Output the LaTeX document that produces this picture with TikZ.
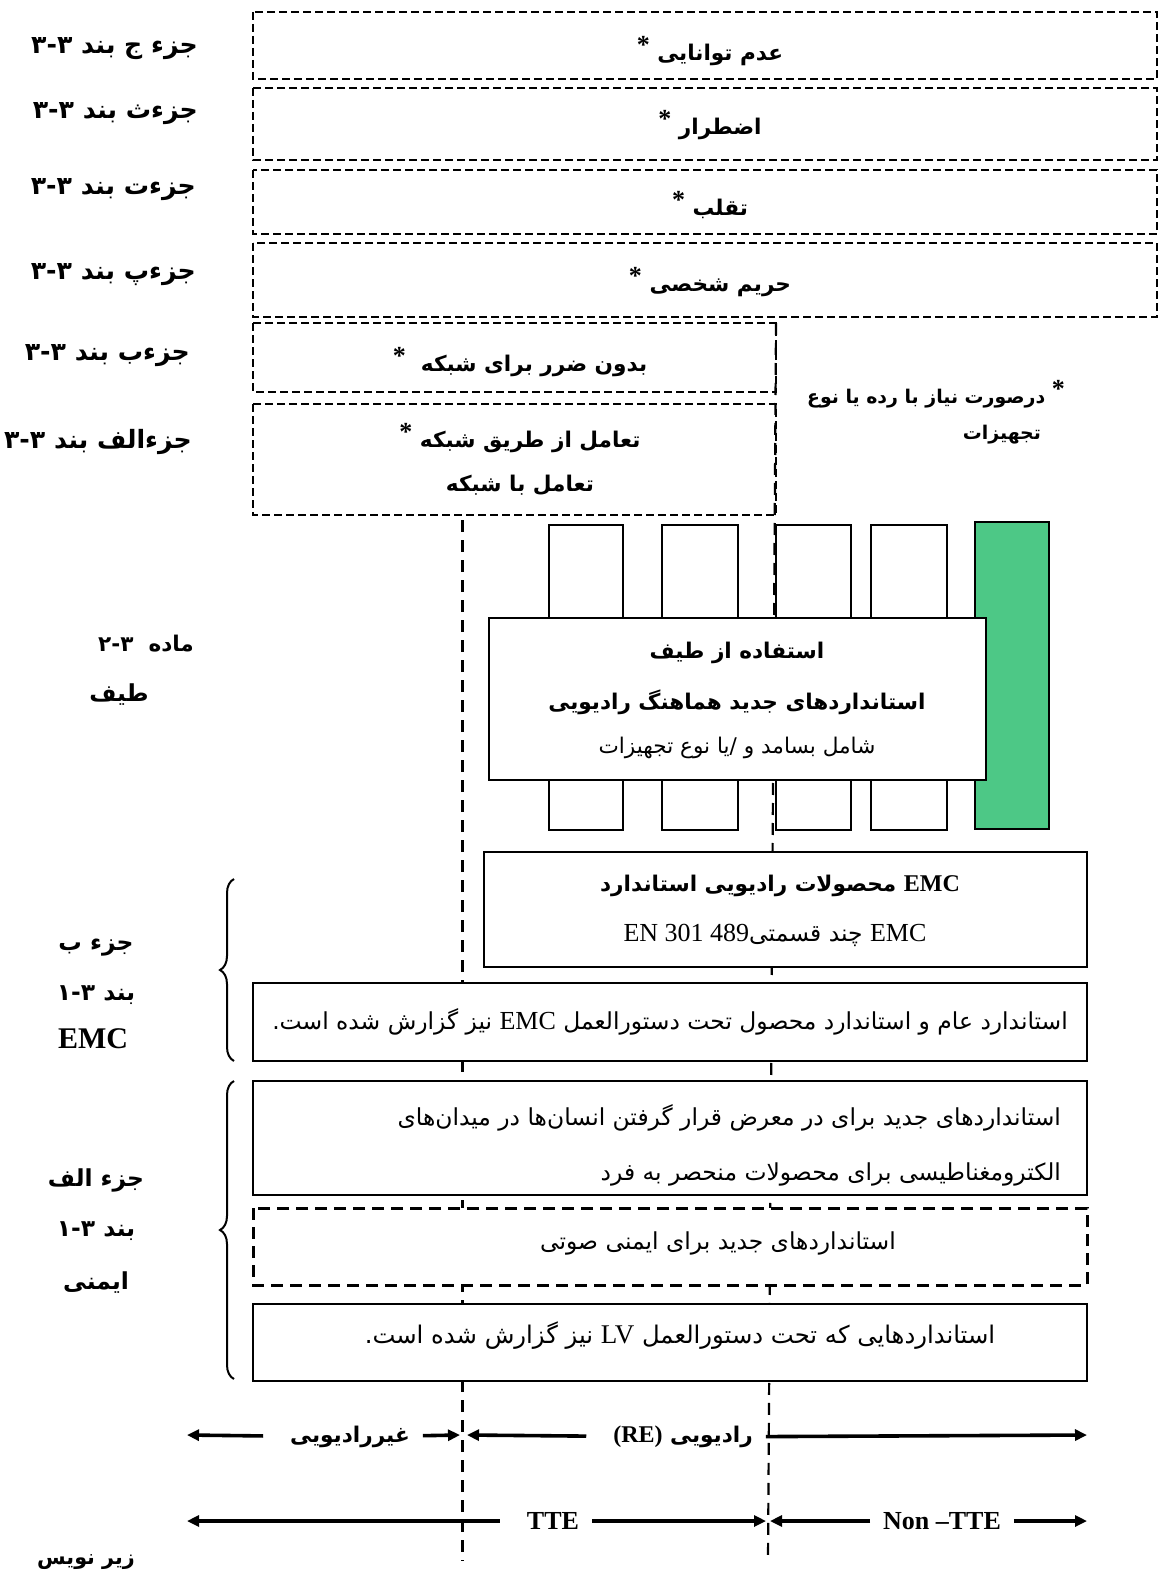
\documentclass[tikz,border=0pt]{standalone}
\usepackage{fontspec}
\setmainfont{Liberation Serif}
\newfontfamily\fa[Script=Arabic,Scale=0.9]{DejaVu Sans}
\TeXXeTstate=1
\usetikzlibrary{arrows.meta,decorations.pathreplacing}
\definecolor{specgreen}{RGB}{77,200,134}
\newcommand{\fatxt}[1]{{\fa\beginR #1\endR}}
\newcommand{\latin}[1]{\beginL{\rmfamily #1}\endL}
\newcommand{\lrnum}[1]{\beginL #1\endL}
\newcommand{\astr}{\raisebox{0.6ex}{\rmfamily\bfseries\fontsize{13}{13}\selectfont *}}

\begin{document}
\begin{tikzpicture}[x=0.5pt,y=-0.5pt,>={Triangle[length=6pt,width=5.5pt]},
      txt/.style={font=\fontsize{12}{22}\selectfont\bfseries, align=center},
      reg/.style={font=\fontsize{13}{22}\selectfont, align=center},
      lbl/.style={font=\fontsize{14}{22}\selectfont\bfseries},
      dbox/.style={draw, line width=0.7pt, dash pattern=on 4pt off 2pt},
      tbox/.style={draw, line width=1.5pt, dash pattern=on 6pt off 3.5pt, fill=white},
      sbox/.style={draw, line width=1pt, fill=white},
      sep/.style={line width=1.5pt, dash pattern=on 6pt off 4pt},
      brc/.style={decorate, decoration={brace, amplitude=7pt}, line width=1pt},
      arr/.style={->, line width=1.8pt, shorten <=3pt}]
      \useasboundingbox (0,0) rectangle (1159,1584);

      % separators
      \coordinate (s1top) at (462,520);
      \coordinate (s1bot) at (462,1561);
      \coordinate (s2top) at (776,323);
      \coordinate (s2bot) at (768,1561);
      \draw[sep] (s1top) -- (s1bot);
      \draw[sep, line width=1.1pt] (s2top) -- (s2bot);

      % article 3.3
      \draw[dbox] (253,12) rectangle (1157,79);
      \node[txt] (inab) at (710,51) {\fatxt{عدم توانایی \astr}};
      \draw[dbox] (253,88) rectangle (1157,160);
      \node[txt] (emerg) at (710,125) {\fatxt{اضطرار \astr}};
      \draw[dbox] (253,170) rectangle (1157,234);
      \node[txt] (fraud) at (710,205) {\fatxt{تقلب \astr}};
      \draw[dbox] (253,243) rectangle (1157,317);
      \node[txt] (priv) at (710,282) {\fatxt{حریم شخصی \astr}};
      \draw[dbox] (253,323) rectangle (776,392);
      \node[txt] (noharm) at (520,362) {\fatxt{بدون ضرر برای شبکه \ \astr}};
      \draw[dbox] (253,404) rectangle (776,515);
      \node[txt] (inter) at (520,459) {\fatxt{تعامل از طریق شبکه \astr}\\\fatxt{تعامل با شبکه}};

      \node[lbl, anchor=east] (lab_c) at (205,49) {\fatxt{جزء ج بند \lrnum{۳-۳}}};
      \node[lbl, anchor=east] (lab_th) at (205,114) {\fatxt{جزءث بند \lrnum{۳-۳}}};
      \node[lbl, anchor=east] (lab_t) at (203,190) {\fatxt{جزءت بند \lrnum{۳-۳}}};
      \node[lbl, anchor=east] (lab_p) at (203,275) {\fatxt{جزءپ بند \lrnum{۳-۳}}};
      \node[lbl, anchor=east] (lab_b) at (197,356) {\fatxt{جزءب بند \lrnum{۳-۳}}};
      \node[lbl, anchor=east] (lab_a) at (199,442) {\fatxt{جزءالف بند \lrnum{۳-۳}}};

      \node[lbl, anchor=east, font=\fontsize{10.5}{22}\selectfont\bfseries] (note1) at (1072,394) {\fatxt{\astr\ درصورت نیاز با رده یا نوع}};
      \node[lbl, anchor=east, font=\fontsize{10.5}{22}\selectfont\bfseries] (note2) at (1048,435) {\fatxt{تجهیزات}};

      % article 3.2
      \draw[sbox] (549,525) rectangle (623,830);
      \draw[sbox] (662,525) rectangle (738,830);
      \draw[sbox] (776,525) rectangle (851,830);
      \draw[sbox] (871,525) rectangle (947,830);
      \draw[sbox, fill=specgreen] (975,522) rectangle (1049,829);
      \draw[sbox] (489,618) rectangle (986,780);
      \node[txt] (spec1) at (737,653) {\fatxt{استفاده از طیف}};
      \node[txt] (spec2) at (737,702) {\fatxt{استانداردهای جدید هماهنگ رادیویی}};
      \node[reg, font=\fontsize{12}{22}\selectfont] (spec3) at (737,748) {\fatxt{شامل بسامد و /یا نوع تجهیزات}};

      \node[lbl, font=\fontsize{12}{22}\selectfont\bfseries] (art32) at (146,644) {\fatxt{ماده\ \ \lrnum{۲-۳}}};
      \node[lbl, font=\fontsize{13}{22}\selectfont\bfseries] (spec) at (119,695) {\fatxt{طیف}};

      % article 3.1b
      \draw[sbox] (484,852) rectangle (1087,967);
      \node[txt] (emc1) at (780,886) {\fatxt{\latin{EMC} محصولات رادیویی استاندارد}};
      \node[reg] (emc2) at (775,935) {\fatxt{\latin{EMC} چند قسمتی\latin{EN 301 489}}};
      \draw[sbox] (253,983) rectangle (1087,1061);
      \node[reg] (emc3) at (670,1022) {\fatxt{استاندارد عام و استاندارد محصول تحت دستورالعمل \latin{EMC} نیز گزارش شده است.}};

      \coordinate (b1top) at (234,879);
      \coordinate (b1bot) at (234,1061);
      \draw[brc] (b1bot) -- (b1top);
      \node[lbl, font=\fontsize{13}{22}\selectfont\bfseries] (lab_emc1) at (96,948) {\fatxt{جزء ب}};
      \node[lbl, font=\fontsize{13}{22}\selectfont\bfseries] (lab_emc2) at (96,995) {\fatxt{بند \lrnum{۱-۳}}};
      \node[lbl, font=\fontsize{15}{22}\selectfont\bfseries] (lab_emc3) at (93,1039) {EMC};

      % article 3.1a
      \draw[sbox] (253,1081) rectangle (1087,1195);
      \node[reg, anchor=east, align=right, font=\fontsize{13}{27.5}\selectfont] (saf1) at (1068,1145)
        {\fatxt{استانداردهای جدید برای در معرض قرار گرفتن انسان‌ها در میدان‌های}\\\fatxt{الکترومغناطیسی برای محصولات منحصر به فرد}};
      \draw[tbox] (253,1208) rectangle (1087,1285);
      \node[reg] (saf2) at (718,1243) {\fatxt{استانداردهای جدید برای ایمنی صوتی}};
      \draw[sbox] (253,1304) rectangle (1087,1381);
      \node[reg, font=\fontsize{13.5}{22}\selectfont] (saf3) at (680,1336) {\fatxt{استانداردهایی که تحت دستورالعمل \latin{LV} نیز گزارش شده است.}};

      \coordinate (b2top) at (234,1081);
      \coordinate (b2bot) at (234,1379);
      \draw[brc] (b2bot) -- (b2top);
      \node[lbl, font=\fontsize{13}{22}\selectfont\bfseries] (lab_saf1) at (96,1180) {\fatxt{جزء الف}};
      \node[lbl, font=\fontsize{13}{22}\selectfont\bfseries] (lab_saf2) at (96,1231) {\fatxt{بند \lrnum{۱-۳}}};
      \node[lbl, font=\fontsize{13}{22}\selectfont\bfseries] (lab_saf3) at (96,1283) {\fatxt{ایمنی}};

      % scope arrows
      \node[txt] (nonradio) at (350,1437) {\fatxt{غیررادیویی}};
      \node[txt] (radio) at (683,1437) {\fatxt{رادیویی \latin{(RE)}}};
      \node[txt, font=\fontsize{13}{22}\selectfont\bfseries] (tte) at (553,1521) {TTE};
      \node[txt, font=\fontsize{13}{22}\selectfont\bfseries] (nontte) at (942,1521) {Non –TTE};
      \coordinate (r1a) at (187,1435);
      \coordinate (r1b) at (460,1435);
      \coordinate (r1c) at (467,1435);
      \coordinate (r1d) at (1087,1435);
      \coordinate (r2a) at (187,1521);
      \coordinate (r2b) at (766,1521);
      \coordinate (r2c) at (770,1521);
      \coordinate (r2d) at (1087,1521);
      \path
      (nonradio) edge [arr, shorten <=10pt] (r1a)
      (nonradio) edge [arr] (r1b)
      (radio) edge [arr, shorten <=10pt] (r1c)
      (radio) edge [arr] (r1d)
      (tte) edge [arr, shorten <=10pt] (r2a)
      (tte) edge [arr] (r2b)
      (nontte) edge [arr] (r2c)
      (nontte) edge [arr] (r2d)
      ;

      \node[lbl, font=\fontsize{11.5}{22}\selectfont\bfseries] (foot) at (86,1562) {\fatxt{زیر نویس}};
\end{tikzpicture}
\end{document}
